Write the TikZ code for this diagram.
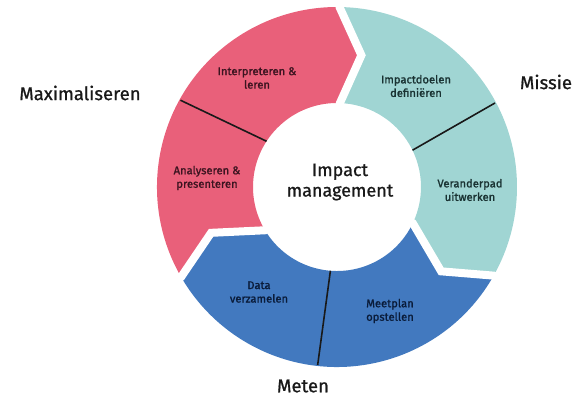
\documentclass[tikz,border=0pt]{standalone}
\usepackage{fontspec}
\setmainfont{Fira Sans}
\newfontfamily\labfont[FakeBold=1.4]{Fira Sans}
\newfontfamily\bigfont[FakeBold=0.9]{Fira Sans}
\definecolor{pinkc}{RGB}{233,96,122}
\definecolor{tealc}{RGB}{160,213,211}
\definecolor{bluec}{RGB}{66,121,191}
\definecolor{pinktxt}{RGB}{60,20,32}
\definecolor{tealtxt}{RGB}{25,50,50}
\definecolor{bluetxt}{RGB}{10,28,58}
\definecolor{darktxt}{RGB}{25,25,25}
\tikzset{
  gapline/.style={draw=white,line width=8pt,line join=miter,line cap=rect},
  divline/.style={draw=darktxt,line width=1.6pt},
  seglabel/.style={align=center,font=\labfont\fontsize{11.2}{13.5}\selectfont},
  biglabel/.style={font=\bigfont\fontsize{18.5}{21}\selectfont,text=darktxt,align=center}
}
\begin{document}
\begin{tikzpicture}[x=1pt,y=1pt]
\useasboundingbox (0,0) rectangle (586,397);
\begin{scope}[shift={(337,210)}]
  % pink segment
  \fill[pinkc] (210:180) arc[start angle=210,end angle=89.2,radius=180]
     -- (79.5:134) -- (88:84) arc[start angle=88,end angle=211,radius=84]
     -- (200:134) -- cycle;
  % teal segment
  \fill[tealc] (89.2:180) arc[start angle=89.2,end angle=-29.5,radius=180]
     -- (-39:134) -- (-25.5:84) arc[start angle=-25.5,end angle=88,radius=84]
     -- (79.5:134) -- cycle;
  % blue segment
  \fill[bluec] (-29.5:180) arc[start angle=-29.5,end angle=-150,radius=180]
     -- (-160:134) -- (-149:84) arc[start angle=-149,end angle=-25.5,radius=84]
     -- (-39:134) -- cycle;
  % white gaps
  \draw[gapline] (89.2:186) -- (89.2:180) -- (79.5:134) -- (88:84) -- (88:78);
  \draw[gapline] (-29.5:186) -- (-29.5:180) -- (-39:134) -- (-25.5:84) -- (-25.5:78);
  \draw[gapline] (210:186) -- (210:180) -- (200:134) -- (211:84) -- (211:78);
  % dividing lines
  \coordinate (p1) at (147:84); \coordinate (p2) at (151:179);
  \coordinate (t1) at (26:84);  \coordinate (t2) at (28:179);
  \coordinate (b1) at (265.5:84); \coordinate (b2) at (263.8:179);
  \draw[divline] (p1) -- (p2);
  \draw[divline] (t1) -- (t2);
  \draw[divline] (b1) -- (b2);
\end{scope}
\node[seglabel,text=pinktxt] (interp) at (257,319) {Interpreteren \&\\leren};
\node[seglabel,text=pinktxt] (analys) at (207,219) {Analyseren \&\\presenteren};
\node[seglabel,text=tealtxt] (impdoel) at (416,311) {Impactdoelen\\definiëren};
\node[seglabel,text=tealtxt] (verand) at (470,207) {Veranderpad\\uitwerken};
\node[seglabel,text=bluetxt] (data) at (259,105) {Data\\verzamelen};
\node[seglabel,text=bluetxt] (meet) at (390,86) {Meetplan\\opstellen};
\node[biglabel,font=\bigfont\fontsize{18}{20.5}\selectfont] (center) at (340,215) {Impact\\management};
\node[biglabel] (maxi) at (80,304) {Maximaliseren};
\node[biglabel] (missie) at (546,315) {Missie};
\node[biglabel] (meten) at (303,11) {Meten};
\end{tikzpicture}
\end{document}
